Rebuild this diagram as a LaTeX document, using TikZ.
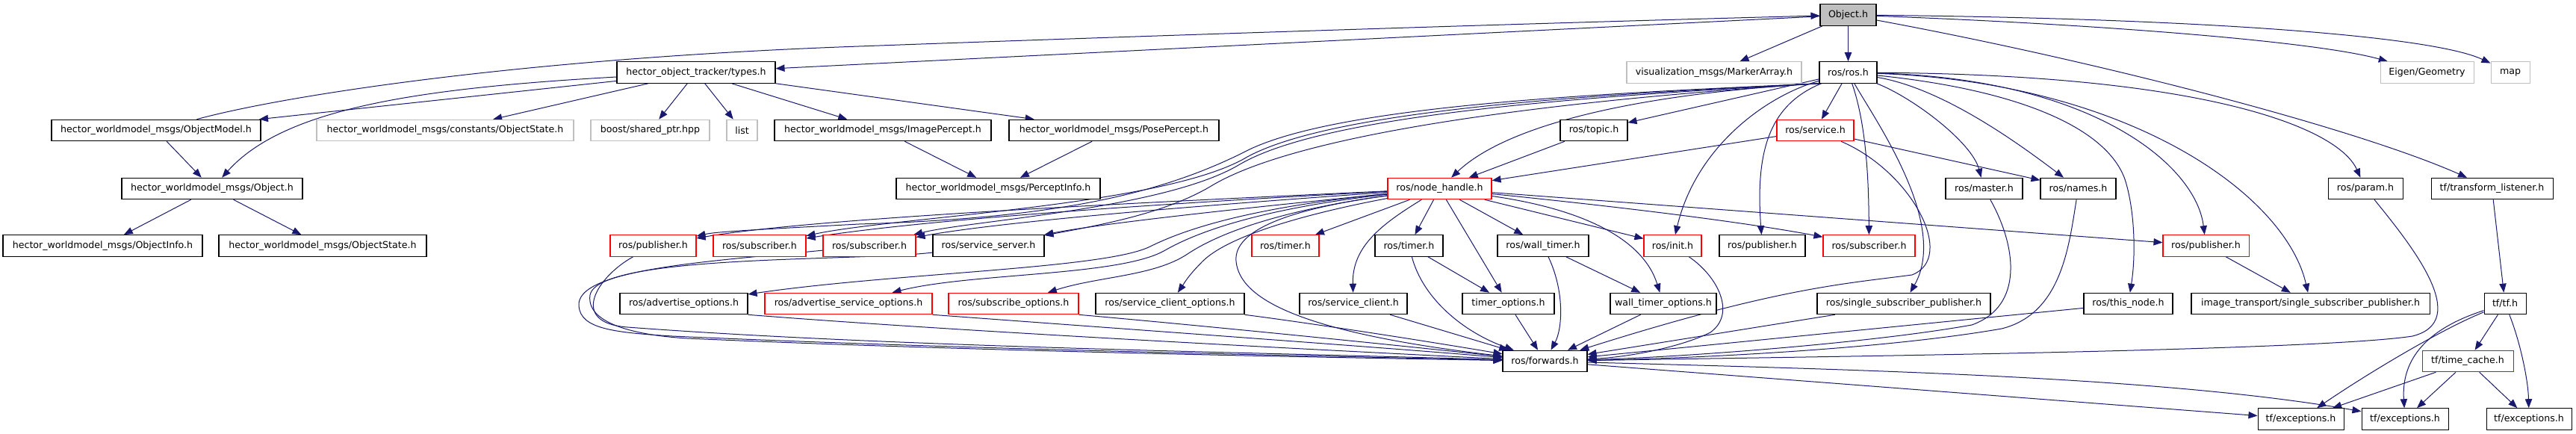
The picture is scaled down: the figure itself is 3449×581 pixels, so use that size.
\documentclass[tikz,border=0pt]{standalone}
\usepackage{fontspec}
\setmainfont{DejaVu Sans}
\usetikzlibrary{arrows.meta,backgrounds}
\definecolor{edgeblue}{HTML}{191970}
\definecolor{nodegray}{HTML}{BFBFBF}
\definecolor{nodered}{HTML}{FF0000}
\newcommand{\bx}[6]{\node[box,#5,minimum width=#4*0.75pt] (#1) at (#2,#3) {#6};}
\begin{document}
\begin{tikzpicture}[x=0.75pt,y=-0.75pt,
  box/.style={rectangle,draw=black,line width=0.8pt,fill=white,minimum height=21.4pt,inner sep=0pt,font=\fontsize{9.45}{11}\selectfont},
  extbox/.style={draw=nodegray},
  redbox/.style={draw=nodered},
  rootbox/.style={fill=nodegray},
  dep/.style={edgeblue,line width=0.75pt,-{Triangle[length=9pt,width=7pt]}}]
\useasboundingbox (0,0) rectangle (3449,581);
% row 1-2
\bx{O}{2474.5}{20}{75}{rootbox}{Object.h}
\bx{types}{932}{97}{212}{}{hector\_object\_tracker/types.h}
\bx{MA}{2295}{97}{234}{extbox}{visualization\_msgs/MarkerArray.h}
\bx{R}{2474.5}{97}{77}{}{ros/ros.h}
\bx{EG}{3249.5}{97}{125}{extbox}{Eigen/Geometry}
\bx{MAP}{3361}{97}{52}{extbox}{map}
% row 3
\bx{OM}{209}{174.5}{280}{}{hector\_worldmodel\_msgs/ObjectModel.h}
\bx{COS}{596}{174.5}{344}{extbox}{hector\_worldmodel\_msgs/constants/ObjectState.h}
\bx{SP}{870.5}{174.5}{159}{extbox}{boost/shared\_ptr.hpp}
\bx{LST}{993.5}{174.5}{41}{extbox}{list}
\bx{IP}{1182}{174.5}{290}{}{hector\_worldmodel\_msgs/ImagePercept.h}
\bx{PP}{1491.5}{174.5}{281}{}{hector\_worldmodel\_msgs/PosePercept.h}
\bx{T}{2134}{174.5}{90}{}{ros/topic.h}
\bx{S}{2430.5}{174.5}{103}{redbox}{ros/service.h}
% row 4
\bx{MO}{284}{252.5}{242}{}{hector\_worldmodel\_msgs/Object.h}
\bx{PI}{1336.5}{252.5}{273}{}{hector\_worldmodel\_msgs/PerceptInfo.h}
\bx{NH}{1927.5}{252.5}{139}{redbox}{ros/node\_handle.h}
\bx{MS}{2656.5}{252.5}{103}{}{ros/master.h}
\bx{NM}{2782.5}{252.5}{101}{}{ros/names.h}
\bx{PA}{3167}{252.5}{100}{}{ros/param.h}
\bx{TL}{3336.5}{252.5}{163}{}{tf/transform\_listener.h}
% row 5
\bx{OI}{137.5}{329}{267}{}{hector\_worldmodel\_msgs/ObjectInfo.h}
\bx{OS}{432}{329}{278}{}{hector\_worldmodel\_msgs/ObjectState.h}
\bx{PB1}{874.5}{329}{115}{redbox}{ros/publisher.h}
\bx{SB1}{1017}{329}{124}{redbox}{ros/subscriber.h}
\bx{SB2}{1164}{329}{124}{redbox}{ros/subscriber.h}
\bx{SS}{1323.5}{329}{149}{}{ros/service\_server.h}
\bx{TM1}{1721}{329}{90}{redbox}{ros/timer.h}
\bx{TM2}{1886.5}{329}{91}{}{ros/timer.h}
\bx{WT}{2066}{329}{122}{}{ros/wall\_timer.h}
\bx{IN}{2239.5}{329}{77}{redbox}{ros/init.h}
\bx{PB2}{2359.5}{329}{115}{}{ros/publisher.h}
\bx{SB3}{2502.5}{329}{123}{redbox}{ros/subscriber.h}
\bx{PB3}{2953.5}{329}{115}{redbox}{ros/publisher.h}
% row 6
\bx{AO}{915.5}{406.5}{171}{}{ros/advertise\_options.h}
\bx{ASO}{1136}{406.5}{224}{redbox}{ros/advertise\_service\_options.h}
\bx{SO}{1357}{406.5}{174}{redbox}{ros/subscribe\_options.h}
\bx{SCO}{1566.5}{406.5}{199}{}{ros/service\_client\_options.h}
\bx{SC}{1812}{406.5}{144}{}{ros/service\_client.h}
\bx{TO}{2019.5}{406.5}{123}{}{timer\_options.h}
\bx{WTO}{2227}{406.5}{142}{}{wall\_timer\_options.h}
\bx{SSP}{2549}{406.5}{232}{}{ros/single\_subscriber\_publisher.h}
\bx{TN}{2849.5}{406.5}{119}{}{ros/this\_node.h}
\bx{ISSP}{3093.5}{406.5}{319}{}{image\_transport/single\_subscriber\_publisher.h}
\bx{TF}{3354}{406.5}{56}{}{tf/tf.h}
% row 7-8
\bx{FW}{2068.5}{483.5}{113}{}{ros/forwards.h}
\bx{TC}{3304}{483.5}{122}{redbox}{tf/time\_cache.h}
\bx{EX1}{3080.5}{561}{115}{}{tf/exceptions.h}
\bx{EX2}{3220}{561}{116}{}{tf/exceptions.h}
\bx{EX3}{3386}{561}{114}{}{tf/exceptions.h}

\begin{scope}[on background layer]
\fill[white] (0,0) rectangle (3449,581);
% Object.h
\draw[dep] (O) -- (types);
\draw[dep] (OM) .. controls (380,128) and (700,78) .. (1150,62) .. controls (1700,42) and (2200,27) .. (O);
\draw[dep] (O) -- (MA);
\draw[dep] (O) -- (R);
\draw[dep] (O) .. controls (2800,32) and (3100,55) .. (EG);
\draw[dep] (O) .. controls (2900,24) and (3250,45) .. (MAP);
\draw[dep] (O) .. controls (2800,80) and (3150,170) .. (TL);
% types.h
\draw[dep] (types) -- (OM);
\draw[dep] (types) .. controls (560,118) and (380,145) .. (MO);
\draw[dep] (types) -- (COS);
\draw[dep] (types) -- (SP);
\draw[dep] (types) -- (LST);
\draw[dep] (types) -- (IP);
\draw[dep] (types) -- (PP);
\draw[dep] (OM) -- (MO);
\draw[dep] (MO) -- (OI);
\draw[dep] (MO) -- (OS);
\draw[dep] (IP) -- (PI);
\draw[dep] (PP) -- (PI);
% ros.h
\draw[dep] (R) -- (S);
\draw[dep] (R) -- (T);
\draw[dep] (R.south west) .. controls (2200,125) and (2020,165) .. (NH);
\draw[dep] (T) -- (NH);
\draw[dep] (S) -- (NH);
\draw[dep] (S) -- (NM);
\draw[dep] (R.south west) .. controls (2150,125) and (1800,140) .. (1673,200) .. controls (1560,258) and (1420,292) .. (1150,300) .. controls (1020,307) and (960,310) .. (PB1);
\draw[dep] (R.south west) .. controls (2150,126) and (1790,145) .. (1670,210) .. controls (1560,276) and (1200,290) .. (SB1);
\draw[dep] (R.south west) .. controls (2150,128) and (1780,150) .. (1660,220) .. controls (1560,280) and (1300,295) .. (SB2);
\draw[dep] (R.south west) .. controls (2150,130) and (1750,170) .. (1620,250) .. controls (1560,285) and (1480,300) .. (SS);
\draw[dep] (R) .. controls (2370,140) and (2350,200) .. (PB2);
\draw[dep] (R) .. controls (2360,130) and (2270,200) .. (IN);
\draw[dep] (R) .. controls (2500,170) and (2502,250) .. (SB3);
\draw[dep] (R) .. controls (2560,130) and (2640,190) .. (MS);
\draw[dep] (R) .. controls (2600,118) and (2700,190) .. (NM);
\draw[dep] (R) .. controls (2700,120) and (2820,170) .. (2845,240) .. controls (2858,280) and (2860,340) .. (TN);
\draw[dep] (R) .. controls (2510,160) and (2610,300) .. (SSP);
\draw[dep] (R) .. controls (2800,105) and (2940,220) .. (PB3);
\draw[dep] (R) .. controls (2850,110) and (3060,260) .. (ISSP);
\draw[dep] (R) .. controls (2950,100) and (3130,170) .. (PA);
% node_handle.h
\draw[dep] (NH) .. controls (1600,268) and (1100,290) .. (PB1);
\draw[dep] (NH) .. controls (1600,270) and (1250,292) .. (SB1);
\draw[dep] (NH) .. controls (1650,272) and (1350,295) .. (SB2);
\draw[dep] (NH) .. controls (1700,275) and (1480,298) .. (SS);
\draw[dep] (NH) .. controls (1750,270) and (1620,290) .. (1540,330) .. controls (1480,360) and (1200,365) .. (AO);
\draw[dep] (NH) .. controls (1750,272) and (1630,295) .. (1560,335) .. controls (1500,370) and (1300,365) .. (ASO);
\draw[dep] (NH) .. controls (1760,275) and (1650,300) .. (1590,340) .. controls (1545,370) and (1470,370) .. (SO);
\draw[dep] (NH) .. controls (1780,280) and (1650,310) .. (1610,350) .. controls (1590,370) and (1585,380) .. (SCO);
\draw[dep] (NH) -- (TM1);
\draw[dep] (NH) -- (TM2);
\draw[dep] (NH) -- (WT);
\draw[dep] (NH) -- (IN);
\draw[dep] (NH) .. controls (1850,300) and (1810,330) .. (SC);
\draw[dep] (NH) .. controls (1760,275) and (1650,300) .. (1655,350) .. controls (1660,400) and (1740,445) .. (FW);
\draw[dep] (NH) -- (TO);
\draw[dep] (NH) .. controls (2120,280) and (2200,320) .. (WTO);
\draw[dep] (NH) .. controls (2200,280) and (2350,300) .. (SB3);
\draw[dep] (NH) -- (PB3);
% into forwards.h
\draw[dep] (S) .. controls (2560,230) and (2620,345) .. (2560,368) .. controls (2470,380) and (2380,385) .. (FW);
\draw[dep] (IN) .. controls (2300,370) and (2325,420) .. (2290,445) .. controls (2250,465) and (2180,478) .. (FW);
\draw[dep] (MS) .. controls (2700,330) and (2710,410) .. (2640,435) .. controls (2500,460) and (2250,478) .. (FW);
\draw[dep] (NM) .. controls (2770,330) and (2760,420) .. (2680,440) .. controls (2520,468) and (2260,480) .. (FW);
\draw[dep] (SSP) -- (FW);
\draw[dep] (TN) -- (FW);
\draw[dep] (PA) .. controls (3230,330) and (3310,430) .. (3230,450) .. controls (3100,470) and (2400,478) .. (FW);
\draw[dep] (PB1) .. controls (800,370) and (760,432) .. (840,438) .. controls (1200,465) and (1700,472) .. (FW);
\draw[dep] (SB2) .. controls (950,350) and (770,360) .. (775,410) .. controls (778,440) and (820,445) .. (900,450) .. controls (1300,468) and (1750,476) .. (FW);
\draw[dep] (SS) .. controls (1150,350) and (800,340) .. (790,395) .. controls (785,430) and (840,448) .. (920,453) .. controls (1300,470) and (1750,478) .. (FW);
\draw[dep] (AO.south east) .. controls (1300,445) and (1800,470) .. (FW);
\draw[dep] (ASO.south east) .. controls (1500,440) and (1850,465) .. (FW);
\draw[dep] (SO.south east) .. controls (1600,435) and (1850,460) .. (FW);
\draw[dep] (SCO.south east) .. controls (1750,432) and (1900,455) .. (FW);
\draw[dep] (SC) -- (FW);
\draw[dep] (TM2) .. controls (1905,400) and (1960,445) .. (FW);
\draw[dep] (TM2) -- (TO);
\draw[dep] (WT) -- (WTO);
\draw[dep] (WT) .. controls (2095,390) and (2092,440) .. (FW);
\draw[dep] (TO) -- (FW);
\draw[dep] (WTO) -- (FW);
% forwards / tf
\draw[dep] (FW) -- (EX1);
\draw[dep] (FW) .. controls (2500,495) and (2900,505) .. (EX2);
\draw[dep] (PB3) -- (ISSP);
\draw[dep] (TL) -- (TF);
\draw[dep] (TF) -- (TC);
\draw[dep] (TF) .. controls (3270,440) and (3170,500) .. (EX1);
\draw[dep] (TF) .. controls (3250,440) and (3215,480) .. (EX2);
\draw[dep] (TF) .. controls (3375,460) and (3385,510) .. (EX3);
\draw[dep] (TC) -- (EX1);
\draw[dep] (TC) -- (EX2);
\draw[dep] (TC) -- (EX3);
\end{scope}
\end{tikzpicture}
\end{document}
